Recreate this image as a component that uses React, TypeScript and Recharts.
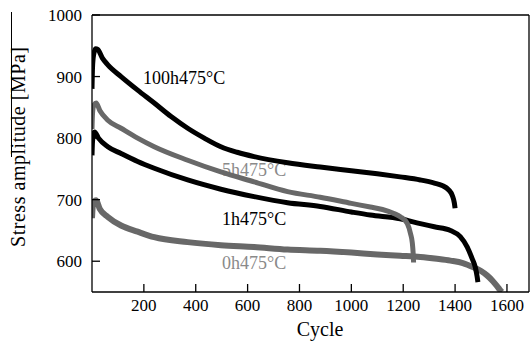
import { LineChart, Line, XAxis, YAxis, Customized } from 'recharts';

// cycles / stress amplitude [MPa]
const cycles100h = [0, 2, 6, 14, 22, 40, 61, 112, 176, 240, 305, 369, 433, 497, 560, 625, 754, 880, 1000, 1100, 1188, 1266, 1320, 1350, 1375, 1390, 1397, 1400];
const stress100h = [880, 915, 935, 945, 944, 930, 919, 900, 878, 857, 835, 816, 800, 786, 777, 770, 760, 753, 747, 742, 737, 732, 727, 723, 716, 706, 695, 686];

const cycles5h = [0, 2, 6, 16, 30, 61, 112, 176, 240, 369, 497, 625, 754, 880, 1000, 1073, 1120, 1162, 1190, 1216, 1228, 1235, 1238, 1240];
const stress5h = [815, 840, 852, 857, 845, 829, 816, 800, 786, 764, 745, 729, 713, 704, 694, 688, 684, 678, 672, 661, 645, 630, 615, 598];

const cycles1h = [0, 2, 6, 10, 25, 61, 112, 176, 240, 369, 497, 625, 754, 880, 1000, 1073, 1188, 1266, 1320, 1382, 1420, 1447, 1465, 1478, 1485, 1488];
const stress1h = [772, 795, 806, 810, 800, 786, 775, 762, 751, 732, 717, 705, 695, 689, 680, 675, 669, 661, 656, 650, 640, 623, 605, 590, 575, 566];

const cycles0h = [0, 2, 6, 16, 30, 61, 112, 176, 240, 369, 497, 625, 754, 880, 1000, 1100, 1188, 1266, 1330, 1382, 1430, 1471, 1500, 1523, 1545, 1561, 1572, 1580];
const stress0h = [670, 685, 695, 699, 685, 672, 658, 648, 639, 631, 626, 623, 619, 617, 614, 611, 609, 607, 604, 601, 597, 590, 584, 577, 568, 560, 554, 550];

const xTicks = [200, 400, 600, 800, 1000, 1200, 1400, 1600];
const yTicks = [600, 700, 800, 900, 1000];

const toRows = (c: number[], v: number[]) => c.map((x, i) => ({ c: x, v: v[i] }));

const FONT = 'Times New Roman, Liberation Serif, DejaVu Serif, serif';
const GRAY = '#686868';
const LABEL_GRAY = '#8a8a8a';

function Annotations() {
  return (
    <g fontFamily={FONT}>
      <text x={143} y={84} fontSize={18} fill="#000" fontFamily={FONT}>100h475°C</text>
      <text x={222} y={176} fontSize={18} fill={LABEL_GRAY} fontFamily={FONT}>5h475°C</text>
      <text x={222} y={225} fontSize={18} fill="#000" fontFamily={FONT}>1h475°C</text>
      <text x={222} y={269} fontSize={18} fill={LABEL_GRAY} fontFamily={FONT}>0h475°C</text>
      <text x={320} y={336} fontSize={20} textAnchor="middle" fill="#000" fontFamily={FONT}>Cycle</text>
      <text
        x={25}
        y={147}
        fontSize={20}
        textAnchor="middle"
        textLength={200}
        lengthAdjust="spacing"
        transform="rotate(-90, 25, 147)"
        fill="#000"
        fontFamily={FONT}
      >
        Stress amplitude [MPa]
      </text>
      <line x1={11.5} y1={12} x2={11.5} y2={157} stroke="#000" strokeWidth={1} />
    </g>
  );
}

export default function App() {
  const tickStyle = { fontFamily: FONT, fontSize: 17, fill: '#000' };
  return (
    <div style={{ position: 'absolute', left: 0, top: 0, background: '#fff', fontFamily: FONT }}>
      <LineChart width={531} height={344} margin={{ top: 14, right: 1, left: 0, bottom: 0 }} style={{ fontFamily: FONT }}>
        <XAxis
          xAxisId="b"
          type="number"
          dataKey="c"
          domain={[0, 1685]}
          ticks={xTicks}
          allowDataOverflow
          height={52}
          tickSize={-8}
          tickMargin={15}
          tick={tickStyle}
          stroke="#000"
          strokeWidth={1.3}
        />
        <XAxis
          xAxisId="t"
          orientation="top"
          type="number"
          dataKey="c"
          domain={[0, 1685]}
          ticks={xTicks}
          allowDataOverflow
          height={1}
          tickSize={-8}
          tick={false}
          stroke="#000"
          strokeWidth={1.3}
        />
        <YAxis
          yAxisId="l"
          type="number"
          domain={[550, 1000]}
          ticks={yTicks}
          allowDataOverflow
          width={92}
          tickSize={-8}
          tickMargin={18}
          tick={tickStyle}
          stroke="#000"
          strokeWidth={1.3}
        />
        <YAxis
          yAxisId="r"
          orientation="right"
          type="number"
          domain={[550, 1000]}
          ticks={yTicks}
          allowDataOverflow
          width={1}
          tickSize={-8}
          tick={false}
          stroke="#000"
          strokeWidth={1.3}
        />
        <Line xAxisId="b" yAxisId="l" type="monotone" data={toRows(cycles0h, stress0h)} dataKey="v" stroke={GRAY} strokeWidth={6} dot={false} isAnimationActive={false} strokeLinejoin="round" />
        <Line xAxisId="b" yAxisId="l" type="monotone" data={toRows(cycles1h, stress1h)} dataKey="v" stroke="#000" strokeWidth={5} dot={false} isAnimationActive={false} strokeLinejoin="round" />
        <Line xAxisId="b" yAxisId="l" type="monotone" data={toRows(cycles5h, stress5h)} dataKey="v" stroke={GRAY} strokeWidth={5} dot={false} isAnimationActive={false} strokeLinejoin="round" />
        <Line xAxisId="b" yAxisId="l" type="monotone" data={toRows(cycles100h, stress100h)} dataKey="v" stroke="#000" strokeWidth={5} dot={false} isAnimationActive={false} strokeLinejoin="round" />
        <Customized component={Annotations} />
      </LineChart>
    </div>
  );
}
